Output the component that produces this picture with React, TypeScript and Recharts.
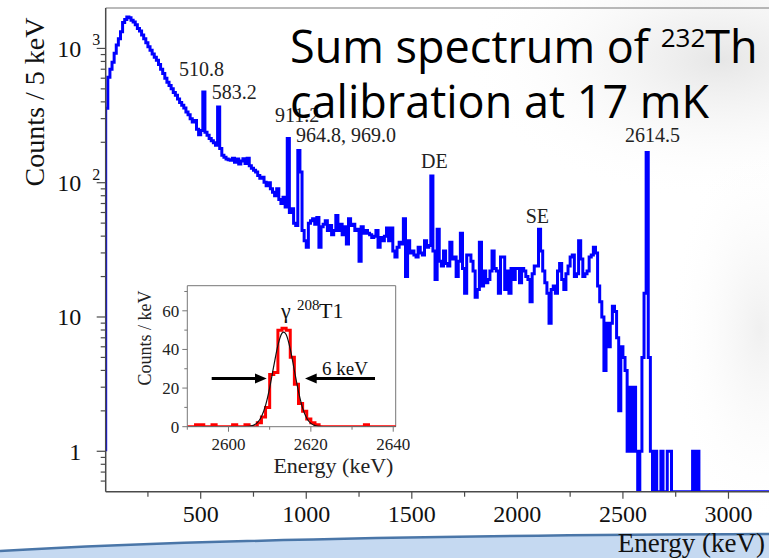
import React from 'react'
import { LineChart, Line, XAxis, YAxis, ReferenceLine } from 'recharts'

const SERIF = "'Liberation Serif', 'Times New Roman', serif"
const SANS = "'Open Sans', 'Noto Sans', sans-serif"
const AXIS = '#4a4a4a'
const FRAME = '#777777'

// sum spectrum in 10 keV steps starting at 50 keV (counts / 5 keV)
const spectrumStart = 50
const spectrumStep = 10
const spectrumEnd = 3200
const spectrumCounts = [
  358, 610, 700, 790, 920, 1060, 1180, 1330, 1560, 1640,
  1714, 1690, 1620, 1570, 1500, 1410, 1350, 1260, 1180, 1100,
  1030, 968, 910, 860, 815, 760, 700, 650, 600, 560,
  530, 500, 470, 448, 420, 395, 377, 360, 336, 320,
  300, 283, 290, 250, 228, 245, 474, 238, 226, 213,
  205, 198, 190, 366, 180, 160, 155, 150, 148, 147,
  152, 142, 150, 138, 145, 151, 139, 152, 134, 128,
  124, 120, 113, 108, 110, 101, 95, 100, 90, 85,
  80, 90, 75, 70, 78, 66, 213, 60, 64, 50,
  48, 174, 120, 44, 37, 33, 50, 52, 54, 49,
  55, 33, 47, 49, 52, 44, 48, 41, 44, 57,
  44, 49, 41, 47, 35, 54, 48, 49, 44, 45,
  26, 47, 42, 44, 42, 41, 39, 40, 44, 33,
  39, 37, 40, 46, 37, 46, 31, 28, 33, 36,
  35, 54, 20, 37, 30, 31, 29, 28, 33, 30,
  29, 37, 33, 34, 112, 31, 19, 45, 26, 24,
  31, 25, 24, 36, 27, 28, 20, 26, 42, 23,
  15, 29, 29, 26, 22, 14, 16, 36, 17, 22,
  18, 19, 22, 31, 23, 22, 15, 28, 28, 16,
  22, 15, 23, 19, 23, 23, 18, 23, 22, 20,
  19, 13, 21, 24, 24, 45, 31, 22, 18, 15,
  9, 16, 17, 15, 22, 25, 19, 16, 21, 24,
  28, 29, 20, 21, 37, 27, 20, 21, 22, 28,
  29, 33, 30, 17, 13, 10, 4, 9, 6, 9,
  12, 11, 7, 2, 6, 5, 4, 1, 3, 1,
  3, 1, 0, 1, 5, 15, 168, 5, 1, 0,
  1, 0, 0, 1, 0, 0, 1, 1, 0, 0,
  0, 0, 0, 0, 0, 0, 0, 0, 1, 0,
  1, 0, 0, 0, 0, 0, 0, 0, 0, 0,
  0, 0, 0, 0, 0, 0, 0, 0, 0, 0,
  0, 0, 0, 0, 0, 0, 0, 0, 0, 0,
  0, 0, 0, 0, 0,
]
const leftEdgeCount = 1
const logFloor = 0.5
const yDomain = [0.5, 2000]
const xDomain = [50, 3200]

const yMajor = [1, 10, 100, 1000]
const yMinor = [0.6, 0.7, 0.8, 0.9, 2, 3, 4, 5, 6, 7, 8, 9, 20, 30, 40, 50, 60, 70, 80, 90, 200, 300, 400, 500, 600, 700, 800, 900]
const yTicks = [...yMajor, ...yMinor].sort((a, b) => a - b)
const yLabels: Record<number, [string, string]> = {
  1: ['1', ''],
  10: ['10', ''],
  100: ['10', '2'],
  1000: ['10', '3'],
}
const xTicks = [250, 500, 750, 1000, 1250, 1500, 1750, 2000, 2250, 2500, 2750, 3000]
const xLabels = [500, 1000, 1500, 2000, 2500, 3000]

// inset: 208Tl line, 1 keV bins from 2590 keV
const insetStart = 2590
const insetCounts = [
  0, 0, 1, 1, 0, 0, 1, 0, 0, 0,
  0, 1, 0, 0, 1, 0, 0, 2, 5, 10,
  27, 28, 50, 51, 50, 36, 22, 12, 8, 4,
  2, 1, 0, 0, 0, 0, 0, 0, 0, 0,
  0, 0, 0, 1, 0, 0, 0, 0, 0, 0,
  0,
]
const insetEnd = 2641
const fitEnergy = [2590, 2604, 2606, 2607, 2608, 2609, 2610, 2611, 2612, 2613, 2613.4, 2614, 2615, 2616, 2617, 2618, 2619, 2620, 2621, 2622, 2624, 2641]
const fitCounts = [0, 0.05, 0.7, 2.1, 5.2, 11, 20.1, 31.5, 42.1, 48.4, 49, 47.7, 40.2, 29.1, 18.1, 9.6, 4.4, 1.7, 0.6, 0.17, 0.01, 0]
const insetXDomain = [2590, 2640.6]
const insetYDomain = [0, 73]
const insetYTicks = [0, 10, 20, 30, 40, 50, 60, 70]
const insetYLabels = [0, 20, 40, 60]
const insetXTicks = [2590, 2600, 2610, 2620, 2630, 2640]
const insetXLabels = [2600, 2620, 2640]

const spectrumData = [
  { e: spectrumStart, c: leftEdgeCount },
  ...spectrumCounts.map((c, i) => ({ e: spectrumStart + i * spectrumStep, c: Math.max(c, logFloor) })),
  { e: spectrumEnd, c: logFloor },
]
const insetData = [
  ...insetCounts.map((c, i) => ({ e: insetStart + i, c })),
  { e: insetEnd, c: 0 },
]
const fitData = fitEnergy.map((e, i) => ({ e, c: fitCounts[i] }))

function LogYTick(props: any) {
  const { x, y, payload } = props
  const v = payload.value
  const major = yMajor.includes(v)
  const label = yLabels[v]
  return (
    <g>
      <line x1={x} x2={x - (major ? 9 : 5)} y1={y} y2={y} stroke={AXIS} strokeWidth={1.2} />
      {label && (
        <text x={x - 24.5} y={y + 8.5} textAnchor="end" fontFamily={SERIF} fontSize={24} fill="#111">
          {label[0]}
        </text>
      )}
      {label && label[1] && (
        <text x={x - 9.5} y={y - 3} textAnchor="middle" fontFamily={SERIF} fontSize={16} fill="#111">
          {label[1]}
        </text>
      )}
    </g>
  )
}

function MainXTick(props: any) {
  const { x, y, payload } = props
  const v = payload.value
  const major = xLabels.includes(v)
  return (
    <g>
      <line x1={x} x2={x} y1={y} y2={y + (major ? 7 : 5)} stroke={AXIS} strokeWidth={1.2} />
      {major && (
        <text x={x} y={y + 30} textAnchor="middle" fontFamily={SERIF} fontSize={24} fill="#111">
          {v}
        </text>
      )}
    </g>
  )
}

function InsetYTick(props: any) {
  const { x, y, payload } = props
  const v = payload.value
  const major = insetYLabels.includes(v)
  return (
    <g>
      <line x1={x} x2={x - (major ? 5 : 3)} y1={y} y2={y} stroke={FRAME} strokeWidth={1} />
      {major && (
        <text x={x - 8} y={y + 6} textAnchor="end" fontFamily={SERIF} fontSize={17} fill="#222">
          {v}
        </text>
      )}
    </g>
  )
}

function InsetXTick(props: any) {
  const { x, y, payload } = props
  const v = payload.value
  const major = insetXLabels.includes(v)
  return (
    <g>
      <line x1={x} x2={x} y1={y} y2={y + (major ? 5 : 3)} stroke={FRAME} strokeWidth={1} />
      {major && (
        <text x={x} y={y + 23} textAnchor="middle" fontFamily={SERIF} fontSize={17} fill="#222">
          {v}
        </text>
      )}
    </g>
  )
}

export default function App() {
  return (
    <div
      style={{
        position: 'fixed',
        left: 0,
        top: 0,
        width: 769,
        height: 558,
        overflow: 'hidden',
        background: '#ffffff',
      }}
    >
      <svg width={769} height={558} style={{ position: 'absolute', left: 0, top: 0 }}>
        <defs>
          <radialGradient id="slideShade" cx="0.5" cy="0.5" r="0.5">
            <stop offset="0%" stopColor="#e6e6e6" />
            <stop offset="100%" stopColor="#ffffff" stopOpacity={0} />
          </radialGradient>
        </defs>
        <ellipse cx={720} cy={60} rx={260} ry={140} fill="url(#slideShade)" />
        <ellipse cx={760} cy={330} rx={90} ry={200} fill="url(#slideShade)" opacity={0.6} />
      </svg>

      <div style={{ position: 'absolute', left: 0, top: 0 }}>
        <LineChart
          width={780}
          height={558}
          data={spectrumData}
          margin={{ top: 8, right: 9.3, left: 0, bottom: 0 }}
        >
          <XAxis
            dataKey="e"
            type="number"
            domain={xDomain}
            allowDataOverflow
            ticks={xTicks}
            interval={0}
            height={66.3}
            tickSize={0}
            tickMargin={0}
            tickLine={false}
            tick={MainXTick}
            axisLine={{ stroke: AXIS, strokeWidth: 1.5 }}
          />
          <YAxis
            type="number"
            scale="log"
            domain={yDomain}
            allowDataOverflow
            ticks={yTicks}
            interval={0}
            width={105.7}
            tickSize={0}
            tickMargin={0}
            tickLine={false}
            tick={LogYTick}
            axisLine={{ stroke: AXIS, strokeWidth: 1.5 }}
          />
          <ReferenceLine y={2000} stroke={FRAME} strokeWidth={1.2} ifOverflow="visible" />
          <Line
            type="stepAfter"
            dataKey="c"
            stroke="#0000ff"
            strokeWidth={3}
            dot={false}
            isAnimationActive={false}
          />
        </LineChart>
      </div>

      <div style={{ position: 'absolute', left: 130, top: 270 }}>
        <LineChart width={280} height={215} margin={{ top: 15.7, right: 14.3, left: 0, bottom: 0 }}>
          <XAxis
            dataKey="e"
            type="number"
            domain={insetXDomain}
            allowDataOverflow
            ticks={insetXTicks}
            interval={0}
            height={58.3}
            tickSize={0}
            tickMargin={0}
            tickLine={false}
            tick={InsetXTick}
            axisLine={{ stroke: FRAME, strokeWidth: 1 }}
          />
          <YAxis
            type="number"
            domain={insetYDomain}
            allowDataOverflow
            ticks={insetYTicks}
            interval={0}
            width={57.3}
            tickSize={0}
            tickMargin={0}
            tickLine={false}
            tick={InsetYTick}
            axisLine={{ stroke: FRAME, strokeWidth: 1 }}
          />
          <ReferenceLine y={73} stroke={FRAME} strokeWidth={1} ifOverflow="visible" />
          <ReferenceLine x={2640.6} stroke={FRAME} strokeWidth={1} ifOverflow="visible" />
          <Line
            data={insetData}
            type="stepAfter"
            dataKey="c"
            stroke="#ff0000"
            strokeWidth={3}
            dot={false}
            isAnimationActive={false}
          />
          <Line
            data={fitData}
            type="monotone"
            dataKey="c"
            stroke="#111111"
            strokeWidth={1.2}
            dot={false}
            isAnimationActive={false}
          />
        </LineChart>
      </div>

      <svg
        width={769}
        height={558}
        style={{ position: 'absolute', left: 0, top: 0, pointerEvents: 'none' }}
      >
        <path d="M0,551 Q260,536 769,534 L769,558 L0,558 Z" fill="#c5d9f1" />
        <path d="M0,551 Q260,536 769,534" fill="none" stroke="#4a76a8" strokeWidth={2.5} />

        <text
          transform="translate(44,102) rotate(-90)"
          textAnchor="middle"
          fontFamily={SERIF}
          fontSize={28}
          fill="#111"
        >
          Counts / 5 keV
        </text>
        <text x={765} y={552} textAnchor="end" fontFamily={SERIF} fontSize={27} fill="#111">
          Energy (keV)
        </text>

        <g fontFamily={SERIF} fontSize={20} fill="#222">
          <text x={179} y={75.7}>510.8</text>
          <text x={211.7} y={99}>583.2</text>
          <text x={275} y={121.7}>911.2</text>
          <text x={296} y={141.7}>964.8, 969.0</text>
          <text x={421} y={168.3}>DE</text>
          <text x={525.7} y={222.7}>SE</text>
          <text x={625} y={141.7}>2614.5</text>
        </g>

        <text x={290} y={63} fontFamily={SANS} fontSize={45} fill="#000">
          Sum spectrum of{' '}
          <tspan fontSize={26} dy={-16}>
            232
          </tspan>
          <tspan dy={16}>Th</tspan>
        </text>
        <text x={290} y={118} fontFamily={SANS} fontSize={45} fill="#000">
          calibration at 17 mK
        </text>

        <text
          transform="translate(151,338) rotate(-90)"
          textAnchor="middle"
          fontFamily={SERIF}
          fontSize={18}
          fill="#222"
        >
          Counts / keV
        </text>
        <text x={333.4} y={473} textAnchor="middle" fontFamily={SERIF} fontSize={22} fill="#222">
          Energy (keV)
        </text>
        <text x={281} y={318} fontFamily={SERIF} fontSize={22} fill="#111">
          γ
        </text>
        <text x={297} y={310} fontFamily={SERIF} fontSize={15} fill="#111">
          208
        </text>
        <text x={319} y={318} fontFamily={SERIF} fontSize={22} fill="#111">
          T1
        </text>
        <text x={322} y={375} fontFamily={SERIF} fontSize={19} fill="#111">
          6 keV
        </text>
        <line x1={211.7} y1={378.5} x2={257} y2={378.5} stroke="#000" strokeWidth={3} />
        <polygon points="266.7,378.5 255,373.5 255,383.5" fill="#000" />
        <line x1={375} y1={378.5} x2={315} y2={378.5} stroke="#000" strokeWidth={3} />
        <polygon points="305,378.5 316.7,373.5 316.7,383.5" fill="#000" />
      </svg>
    </div>
  )
}
